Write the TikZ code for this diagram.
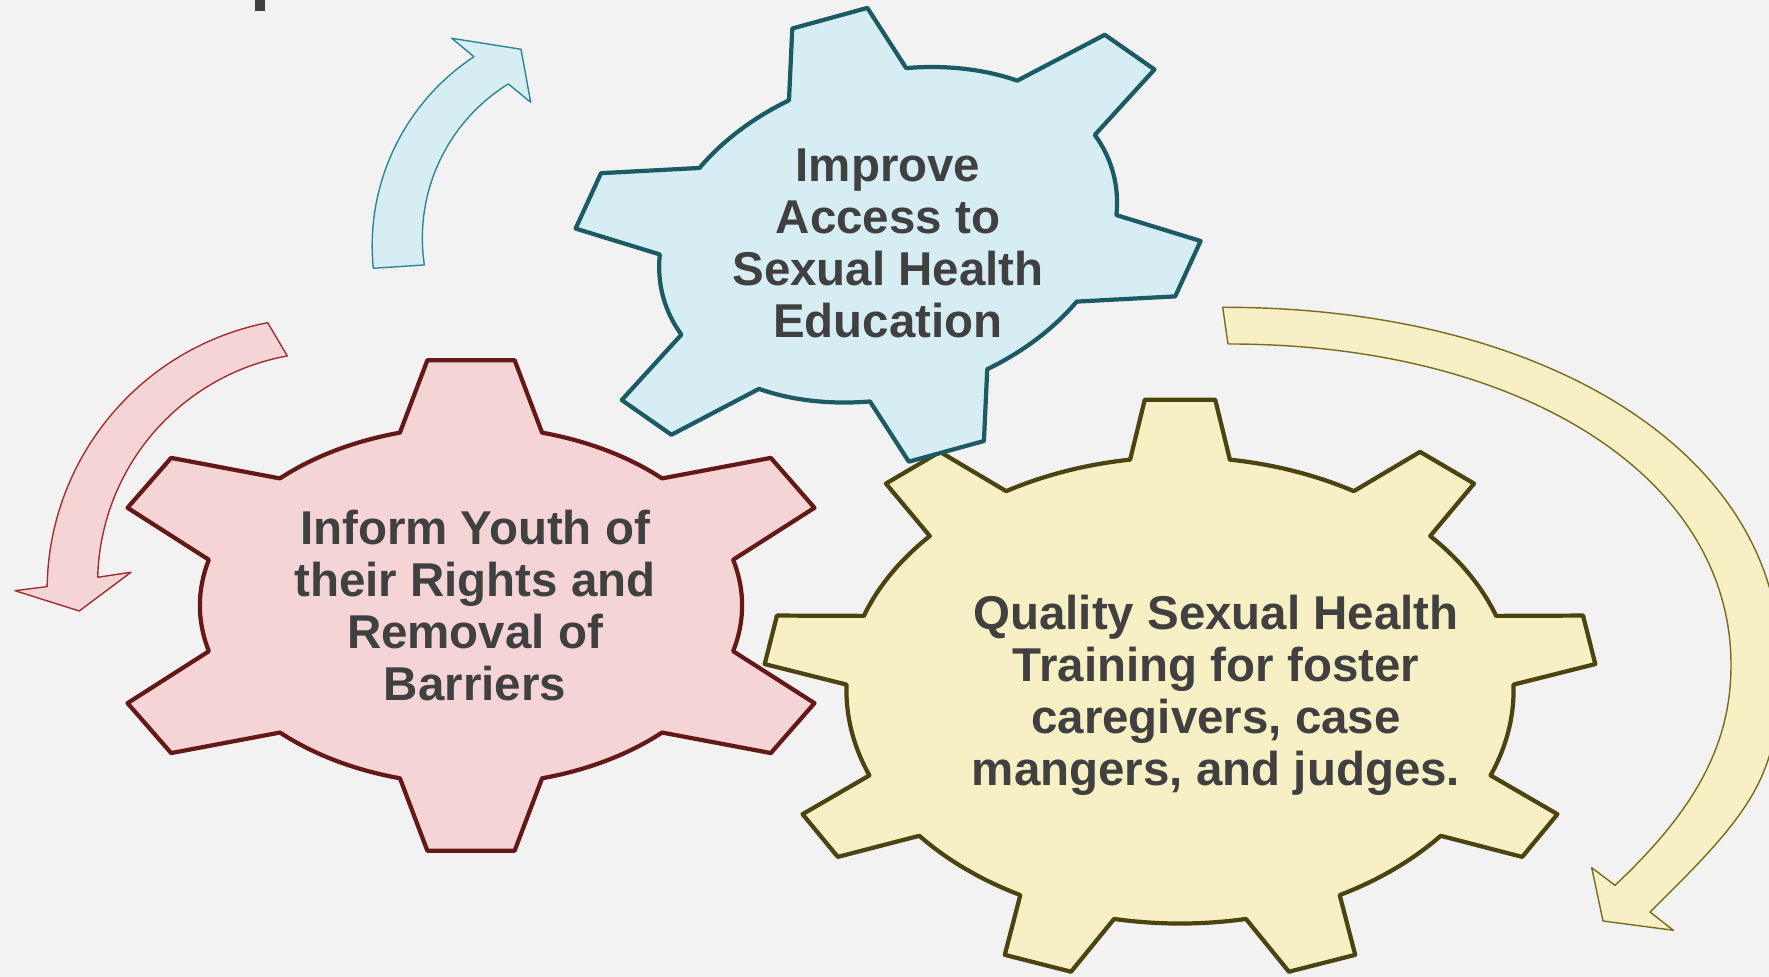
\documentclass[tikz,border=0pt]{standalone}
\usepackage{fontspec}
\setmainfont{Liberation Sans}
\usepackage{tikz}

\definecolor{bggray}{HTML}{F2F2F2}
\definecolor{textgray}{HTML}{404040}
\definecolor{pinkfill}{HTML}{F5D4D5}
\definecolor{pinkline}{HTML}{641818}
\definecolor{pinkarrow}{HTML}{A13030}
\definecolor{bluefill}{HTML}{D6EEF3}
\definecolor{blueline}{HTML}{1B5B63}
\definecolor{bluearrow}{HTML}{2A8896}
\definecolor{yellowfill}{HTML}{F8F0C5}
\definecolor{yellowline}{HTML}{4B4310}
\definecolor{yellowarrow}{HTML}{7A6C1E}

% gear outline: teeth, first tooth angle, tip half width, base half width, base radius
\newcommand{\gearpath}[5]{({#2-#4}:#5)
  \foreach \k [evaluate=\k as \a using #2+(\k-1)*360/#1] in {1,...,#1}{
    -- ({\a-#3}:1) -- ({\a+#3}:1) -- ({\a+#4}:#5)
    arc[start angle={\a+#4}, end angle={\a+360/#1-#4}, radius=#5]} -- cycle}

\begin{document}
\begin{tikzpicture}[x=0.01cm,y=0.01cm]
    \tikzstyle{gear}=[line width=1.2pt,line join=round]
    \tikzstyle{cyclearrow}=[line width=0.4pt,line join=round]
    \tikzstyle{geartext}=[align=center,text=textgray,inner sep=0pt,font=\fontsize{13.5}{14.8}\selectfont\bfseries]

    \useasboundingbox (0,0) rectangle (1769,977);
    \fill[bggray] (0,0) rectangle (1769,977);
    \clip (0,0) rectangle (1769,977);

    % arrows
    \filldraw[cyclearrow,fill=bluefill,draw=bluearrow] (373.3,708.7) arc[start angle=185.7, end angle=123.4, radius=226.5]
        -- (451.7,938.7) -- (521,927.7) -- (530.7,874.7) -- (508.3,893)
        arc[start angle=121.7, end angle=188.54, radius=181.1] -- cycle;
    \filldraw[cyclearrow,fill=pinkfill,draw=pinkarrow] (267.7,654.3) arc[start angle=101.07, end angle=179.16, radius=273]
        -- (15,386.3) -- (79.3,366) -- (131,404.7) -- (97.7,399.7)
        arc[start angle=178.49, end angle=100.34, radius=231.2] -- cycle;
    \filldraw[cyclearrow,fill=yellowfill,draw=yellowarrow] (1222.7,669.7) .. controls (1552.4,669.7) and (1780,519.4) .. (1780,315)
        .. controls (1780,202.4) and (1756.7,169.6) .. (1650,65)
        -- (1673.3,46.7) -- (1603,56) -- (1591.7,109.3) -- (1615,91.7)
        .. controls (1697.7,169.3) and (1731,234.8) .. (1731,312)
        .. controls (1731,499.7) and (1522.7,633) .. (1228,633) -- cycle;

    % gears
    \begin{scope}[shift={(1180,286.7)},xscale=417,yscale=291.6]
        \filldraw[gear,fill=yellowfill,draw=yellowline] \gearpath{9}{90}{4.85}{8.6}{0.8};
    \end{scope}
    \begin{scope}[shift={(471,371.5)},xscale=374,yscale=247]
        \filldraw[gear,fill=pinkfill,draw=pinkline] \gearpath{6}{30}{6.7}{15.2}{0.725};
    \end{scope}
    \begin{scope}[shift={(888.1,742.2)},rotate=15.64,xscale=326.5,yscale=225.9]
        \filldraw[gear,fill=bluefill,draw=blueline] \gearpath{6}{29.6}{6.85}{15.1}{0.715};
    \end{scope}

    \node[geartext] (access) at (888,733.2) {Improve\\Access to\\Sexual Health\\Education};
    \node[geartext] (rights) at (475,371.5) {Inform Youth of\\their Rights and\\Removal of\\Barriers};
    \node[geartext] (training) at (1216,282) {Quality Sexual Health\\Training for foster\\caregivers, case\\mangers, and judges.};

    % cut-off title stroke
    \fill[textgray] (254.5,965.5) rectangle (265,977);
\end{tikzpicture}
\end{document}
